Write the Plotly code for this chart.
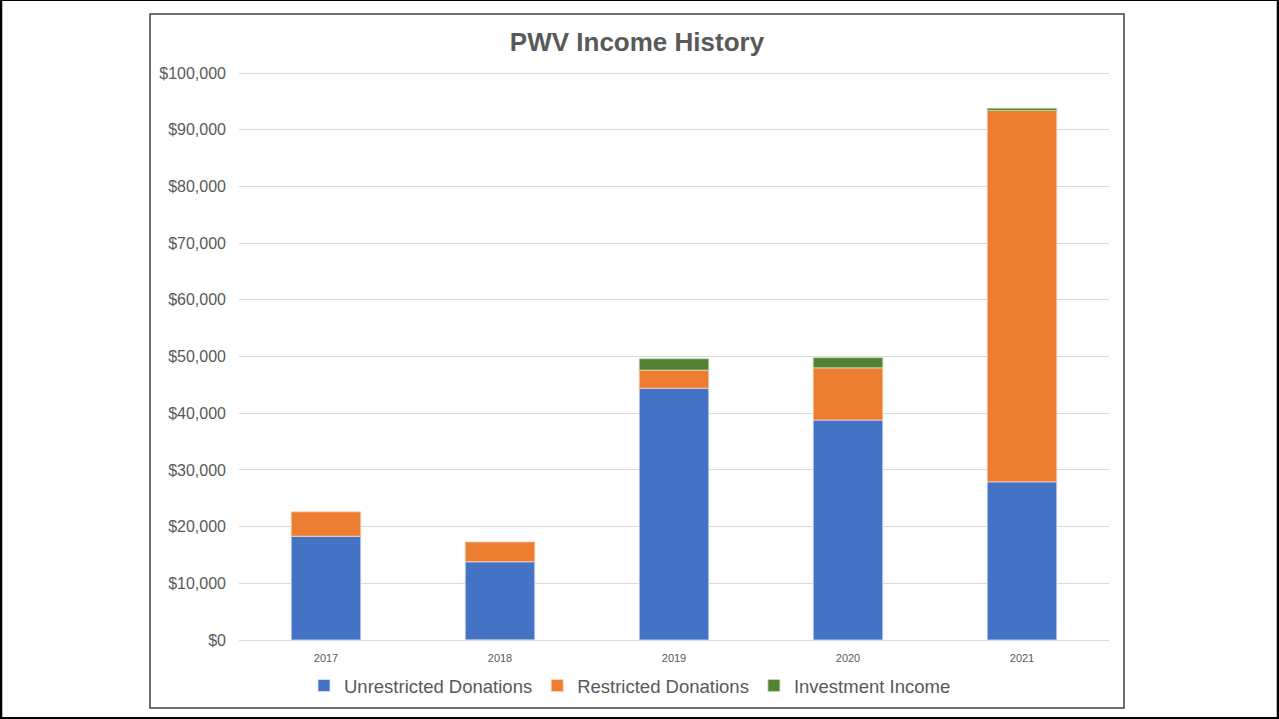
import plotly.graph_objects as go

years = ["2017", "2018", "2019", "2020", "2021"]
unrestricted = [18300, 13800, 44400, 38800, 27900]
restricted = [4300, 3500, 3200, 9200, 65500]
investment = [None, -300, 2000, 1800, 400]

W, H = 1279, 719
# plot area in pixels
L, R, T, B = 239, 1109, 73, 640


def px_x(x):
    return (x - L) / (R - L)


def px_y(y):
    return (B - y) / (B - T)


fig = go.Figure()

fig.add_trace(go.Bar(x=years, y=unrestricted, name="Unrestricted Donations",
                     marker=dict(color="#4472C4", line=dict(color="#dbe4f5", width=0.8))))
fig.add_trace(go.Bar(x=years, y=restricted, name="Restricted Donations",
                     marker=dict(color="#ED7D31", line=dict(color="#f8d5bd", width=0.8))))
fig.add_trace(go.Bar(x=years, y=investment, name="Investment Income",
                     marker=dict(color="#548235", line=dict(color="#c9dcbc", width=0.8))))

shapes = [
    # chart box
    dict(type="rect", xref="paper", yref="paper",
         x0=px_x(150), x1=px_x(1124), y0=px_y(708), y1=px_y(15),
         line=dict(color="#404040", width=1.5), layer="below"),
    # outer frame
    dict(type="rect", xref="paper", yref="paper",
         x0=px_x(1), x1=px_x(1278), y0=px_y(718), y1=px_y(1),
         line=dict(color="#000000", width=2.5), layer="below"),
]

fig.update_layout(
    width=W, height=H,
    barmode="relative",
    bargap=0.6,
    margin=dict(l=L, r=W - R, t=T - 1, b=H - B),
    plot_bgcolor="white",
    paper_bgcolor="white",
    font=dict(family="Liberation Sans, Arial", color="#595959"),
    title=dict(text="<b>PWV Income History</b>", x=637 / W, xref="container", xanchor="center",
               y=1 - 42 / H, yref="container", yanchor="middle",
               font=dict(size=26, color="#595959")),
    yaxis=dict(range=[0, 100180], dtick=10000, tickprefix="$", tickformat=",d",
               showgrid=True, gridcolor="#d9d9d9", gridwidth=1, zeroline=False,
               showline=False, ticks="", ticklabelstandoff=12, automargin=False,
               tickfont=dict(size=16, color="#595959")),
    xaxis=dict(showgrid=False, showline=True, linecolor="#d9d9d9", linewidth=1,
               ticks="", ticklabelstandoff=8, automargin=False,
               tickfont=dict(size=11, color="#595959")),
    legend=dict(orientation="h", xref="container", yref="container",
                x=630 / W, xanchor="center", y=1 - 686 / H, yanchor="middle",
                bgcolor="rgba(0,0,0,0)",
                font=dict(size=18.5, color="#595959"), itemwidth=30,
                traceorder="normal"),
    shapes=shapes,
)

fig.write_html("out.html", config={"displayModeBar": False},
               post_script="document.body.style.margin='0';")
